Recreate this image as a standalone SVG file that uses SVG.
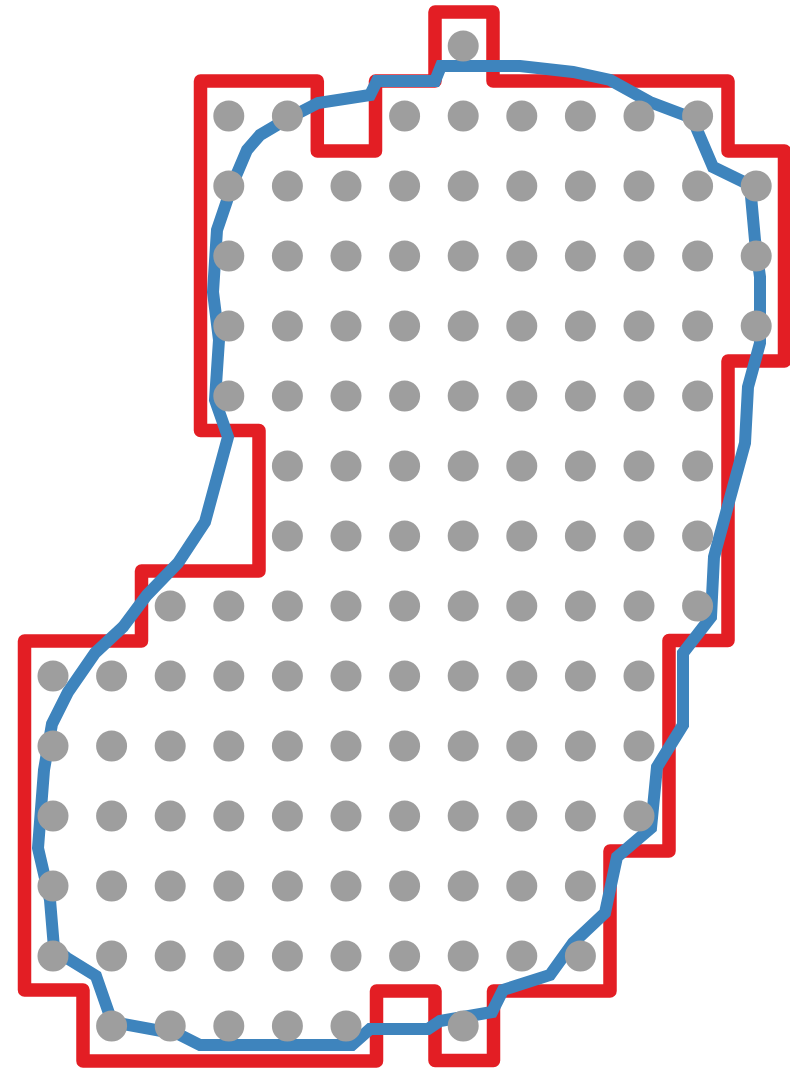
<svg xmlns="http://www.w3.org/2000/svg" width="790" height="1069" viewBox="0 0 790 1069">
<style>
.red{fill:none;stroke:#e31e24;stroke-width:13.5;stroke-linejoin:round}
.blue{fill:none;stroke:#3e84bd;stroke-width:12;stroke-linejoin:miter}
.d{fill:#9e9e9e}
</style>
<rect width="790" height="1069" fill="#ffffff"/>
<g id="red-outline">
<path class="red" d="M200.5,81 H317.3 V151 H375.5 V81 H435 V12 H493 V81 H728 V151 H784.5 V361 H728 V640.5 H669 V851 H610 V991 H493.5 V1060.5 H435 V991 H376.5 V1061 H83 V990 H24.5 V641 H141.5 V571 H259 V430.5 H200.5 Z"/>
</g>
<g id="blue-curve">
<path class="blue" d="M377,81 L435,81 L441,66 L520,66 L573,72 L610,80 L650,102 L692,118 L713,167 L750,185 L755,240 L760,277 L760,343 L748,387 L745,443 L714,557 L711,617 L683,653 L683,725 L657,767 L651,828 L617,857 L605,913 L573,943 L550,975 L503,990 L492,1012 L440,1021 L428,1029 L370,1029 L352,1045 L200,1045 L178,1034 L112,1022 L96,976 L67,958 L54,948 L50,900 L38,848 L44,770 L52,724 L68,692 L95,653 L123,627 L147,595 L178,563 L205,522 L228,437 L215,400 L219,340 L213,292 L217,230 L233,183 L247,150 L260,135 L287,119 L318,103 L370,95 Z"/>
</g>
<g id="dots">
<circle class="d" cx="463.2" cy="46" r="15.5"/>
<circle class="d" cx="228.8" cy="116" r="15.5"/><circle class="d" cx="287.4" cy="116" r="15.5"/><circle class="d" cx="404.6" cy="116" r="15.5"/><circle class="d" cx="463.2" cy="116" r="15.5"/><circle class="d" cx="521.8" cy="116" r="15.5"/><circle class="d" cx="580.4" cy="116" r="15.5"/><circle class="d" cx="639" cy="116" r="15.5"/><circle class="d" cx="697.6" cy="116" r="15.5"/>
<circle class="d" cx="228.8" cy="186" r="15.5"/><circle class="d" cx="287.4" cy="186" r="15.5"/><circle class="d" cx="346" cy="186" r="15.5"/><circle class="d" cx="404.6" cy="186" r="15.5"/><circle class="d" cx="463.2" cy="186" r="15.5"/><circle class="d" cx="521.8" cy="186" r="15.5"/><circle class="d" cx="580.4" cy="186" r="15.5"/><circle class="d" cx="639" cy="186" r="15.5"/><circle class="d" cx="697.6" cy="186" r="15.5"/><circle class="d" cx="756.2" cy="186" r="15.5"/>
<circle class="d" cx="228.8" cy="256" r="15.5"/><circle class="d" cx="287.4" cy="256" r="15.5"/><circle class="d" cx="346" cy="256" r="15.5"/><circle class="d" cx="404.6" cy="256" r="15.5"/><circle class="d" cx="463.2" cy="256" r="15.5"/><circle class="d" cx="521.8" cy="256" r="15.5"/><circle class="d" cx="580.4" cy="256" r="15.5"/><circle class="d" cx="639" cy="256" r="15.5"/><circle class="d" cx="697.6" cy="256" r="15.5"/><circle class="d" cx="756.2" cy="256" r="15.5"/>
<circle class="d" cx="228.8" cy="326" r="15.5"/><circle class="d" cx="287.4" cy="326" r="15.5"/><circle class="d" cx="346" cy="326" r="15.5"/><circle class="d" cx="404.6" cy="326" r="15.5"/><circle class="d" cx="463.2" cy="326" r="15.5"/><circle class="d" cx="521.8" cy="326" r="15.5"/><circle class="d" cx="580.4" cy="326" r="15.5"/><circle class="d" cx="639" cy="326" r="15.5"/><circle class="d" cx="697.6" cy="326" r="15.5"/><circle class="d" cx="756.2" cy="326" r="15.5"/>
<circle class="d" cx="228.8" cy="396" r="15.5"/><circle class="d" cx="287.4" cy="396" r="15.5"/><circle class="d" cx="346" cy="396" r="15.5"/><circle class="d" cx="404.6" cy="396" r="15.5"/><circle class="d" cx="463.2" cy="396" r="15.5"/><circle class="d" cx="521.8" cy="396" r="15.5"/><circle class="d" cx="580.4" cy="396" r="15.5"/><circle class="d" cx="639" cy="396" r="15.5"/><circle class="d" cx="697.6" cy="396" r="15.5"/>
<circle class="d" cx="287.4" cy="466" r="15.5"/><circle class="d" cx="346" cy="466" r="15.5"/><circle class="d" cx="404.6" cy="466" r="15.5"/><circle class="d" cx="463.2" cy="466" r="15.5"/><circle class="d" cx="521.8" cy="466" r="15.5"/><circle class="d" cx="580.4" cy="466" r="15.5"/><circle class="d" cx="639" cy="466" r="15.5"/><circle class="d" cx="697.6" cy="466" r="15.5"/>
<circle class="d" cx="287.4" cy="536" r="15.5"/><circle class="d" cx="346" cy="536" r="15.5"/><circle class="d" cx="404.6" cy="536" r="15.5"/><circle class="d" cx="463.2" cy="536" r="15.5"/><circle class="d" cx="521.8" cy="536" r="15.5"/><circle class="d" cx="580.4" cy="536" r="15.5"/><circle class="d" cx="639" cy="536" r="15.5"/><circle class="d" cx="697.6" cy="536" r="15.5"/>
<circle class="d" cx="170.2" cy="606" r="15.5"/><circle class="d" cx="228.8" cy="606" r="15.5"/><circle class="d" cx="287.4" cy="606" r="15.5"/><circle class="d" cx="346" cy="606" r="15.5"/><circle class="d" cx="404.6" cy="606" r="15.5"/><circle class="d" cx="463.2" cy="606" r="15.5"/><circle class="d" cx="521.8" cy="606" r="15.5"/><circle class="d" cx="580.4" cy="606" r="15.5"/><circle class="d" cx="639" cy="606" r="15.5"/><circle class="d" cx="697.6" cy="606" r="15.5"/>
<circle class="d" cx="53" cy="676" r="15.5"/><circle class="d" cx="111.6" cy="676" r="15.5"/><circle class="d" cx="170.2" cy="676" r="15.5"/><circle class="d" cx="228.8" cy="676" r="15.5"/><circle class="d" cx="287.4" cy="676" r="15.5"/><circle class="d" cx="346" cy="676" r="15.5"/><circle class="d" cx="404.6" cy="676" r="15.5"/><circle class="d" cx="463.2" cy="676" r="15.5"/><circle class="d" cx="521.8" cy="676" r="15.5"/><circle class="d" cx="580.4" cy="676" r="15.5"/><circle class="d" cx="639" cy="676" r="15.5"/>
<circle class="d" cx="53" cy="746" r="15.5"/><circle class="d" cx="111.6" cy="746" r="15.5"/><circle class="d" cx="170.2" cy="746" r="15.5"/><circle class="d" cx="228.8" cy="746" r="15.5"/><circle class="d" cx="287.4" cy="746" r="15.5"/><circle class="d" cx="346" cy="746" r="15.5"/><circle class="d" cx="404.6" cy="746" r="15.5"/><circle class="d" cx="463.2" cy="746" r="15.5"/><circle class="d" cx="521.8" cy="746" r="15.5"/><circle class="d" cx="580.4" cy="746" r="15.5"/><circle class="d" cx="639" cy="746" r="15.5"/>
<circle class="d" cx="53" cy="816" r="15.5"/><circle class="d" cx="111.6" cy="816" r="15.5"/><circle class="d" cx="170.2" cy="816" r="15.5"/><circle class="d" cx="228.8" cy="816" r="15.5"/><circle class="d" cx="287.4" cy="816" r="15.5"/><circle class="d" cx="346" cy="816" r="15.5"/><circle class="d" cx="404.6" cy="816" r="15.5"/><circle class="d" cx="463.2" cy="816" r="15.5"/><circle class="d" cx="521.8" cy="816" r="15.5"/><circle class="d" cx="580.4" cy="816" r="15.5"/><circle class="d" cx="639" cy="816" r="15.5"/>
<circle class="d" cx="53" cy="886" r="15.5"/><circle class="d" cx="111.6" cy="886" r="15.5"/><circle class="d" cx="170.2" cy="886" r="15.5"/><circle class="d" cx="228.8" cy="886" r="15.5"/><circle class="d" cx="287.4" cy="886" r="15.5"/><circle class="d" cx="346" cy="886" r="15.5"/><circle class="d" cx="404.6" cy="886" r="15.5"/><circle class="d" cx="463.2" cy="886" r="15.5"/><circle class="d" cx="521.8" cy="886" r="15.5"/><circle class="d" cx="580.4" cy="886" r="15.5"/>
<circle class="d" cx="53" cy="956" r="15.5"/><circle class="d" cx="111.6" cy="956" r="15.5"/><circle class="d" cx="170.2" cy="956" r="15.5"/><circle class="d" cx="228.8" cy="956" r="15.5"/><circle class="d" cx="287.4" cy="956" r="15.5"/><circle class="d" cx="346" cy="956" r="15.5"/><circle class="d" cx="404.6" cy="956" r="15.5"/><circle class="d" cx="463.2" cy="956" r="15.5"/><circle class="d" cx="521.8" cy="956" r="15.5"/><circle class="d" cx="580.4" cy="956" r="15.5"/>
<circle class="d" cx="111.6" cy="1026" r="15.5"/><circle class="d" cx="170.2" cy="1026" r="15.5"/><circle class="d" cx="228.8" cy="1026" r="15.5"/><circle class="d" cx="287.4" cy="1026" r="15.5"/><circle class="d" cx="346" cy="1026" r="15.5"/><circle class="d" cx="463.2" cy="1026" r="15.5"/>
</g>
</svg>
